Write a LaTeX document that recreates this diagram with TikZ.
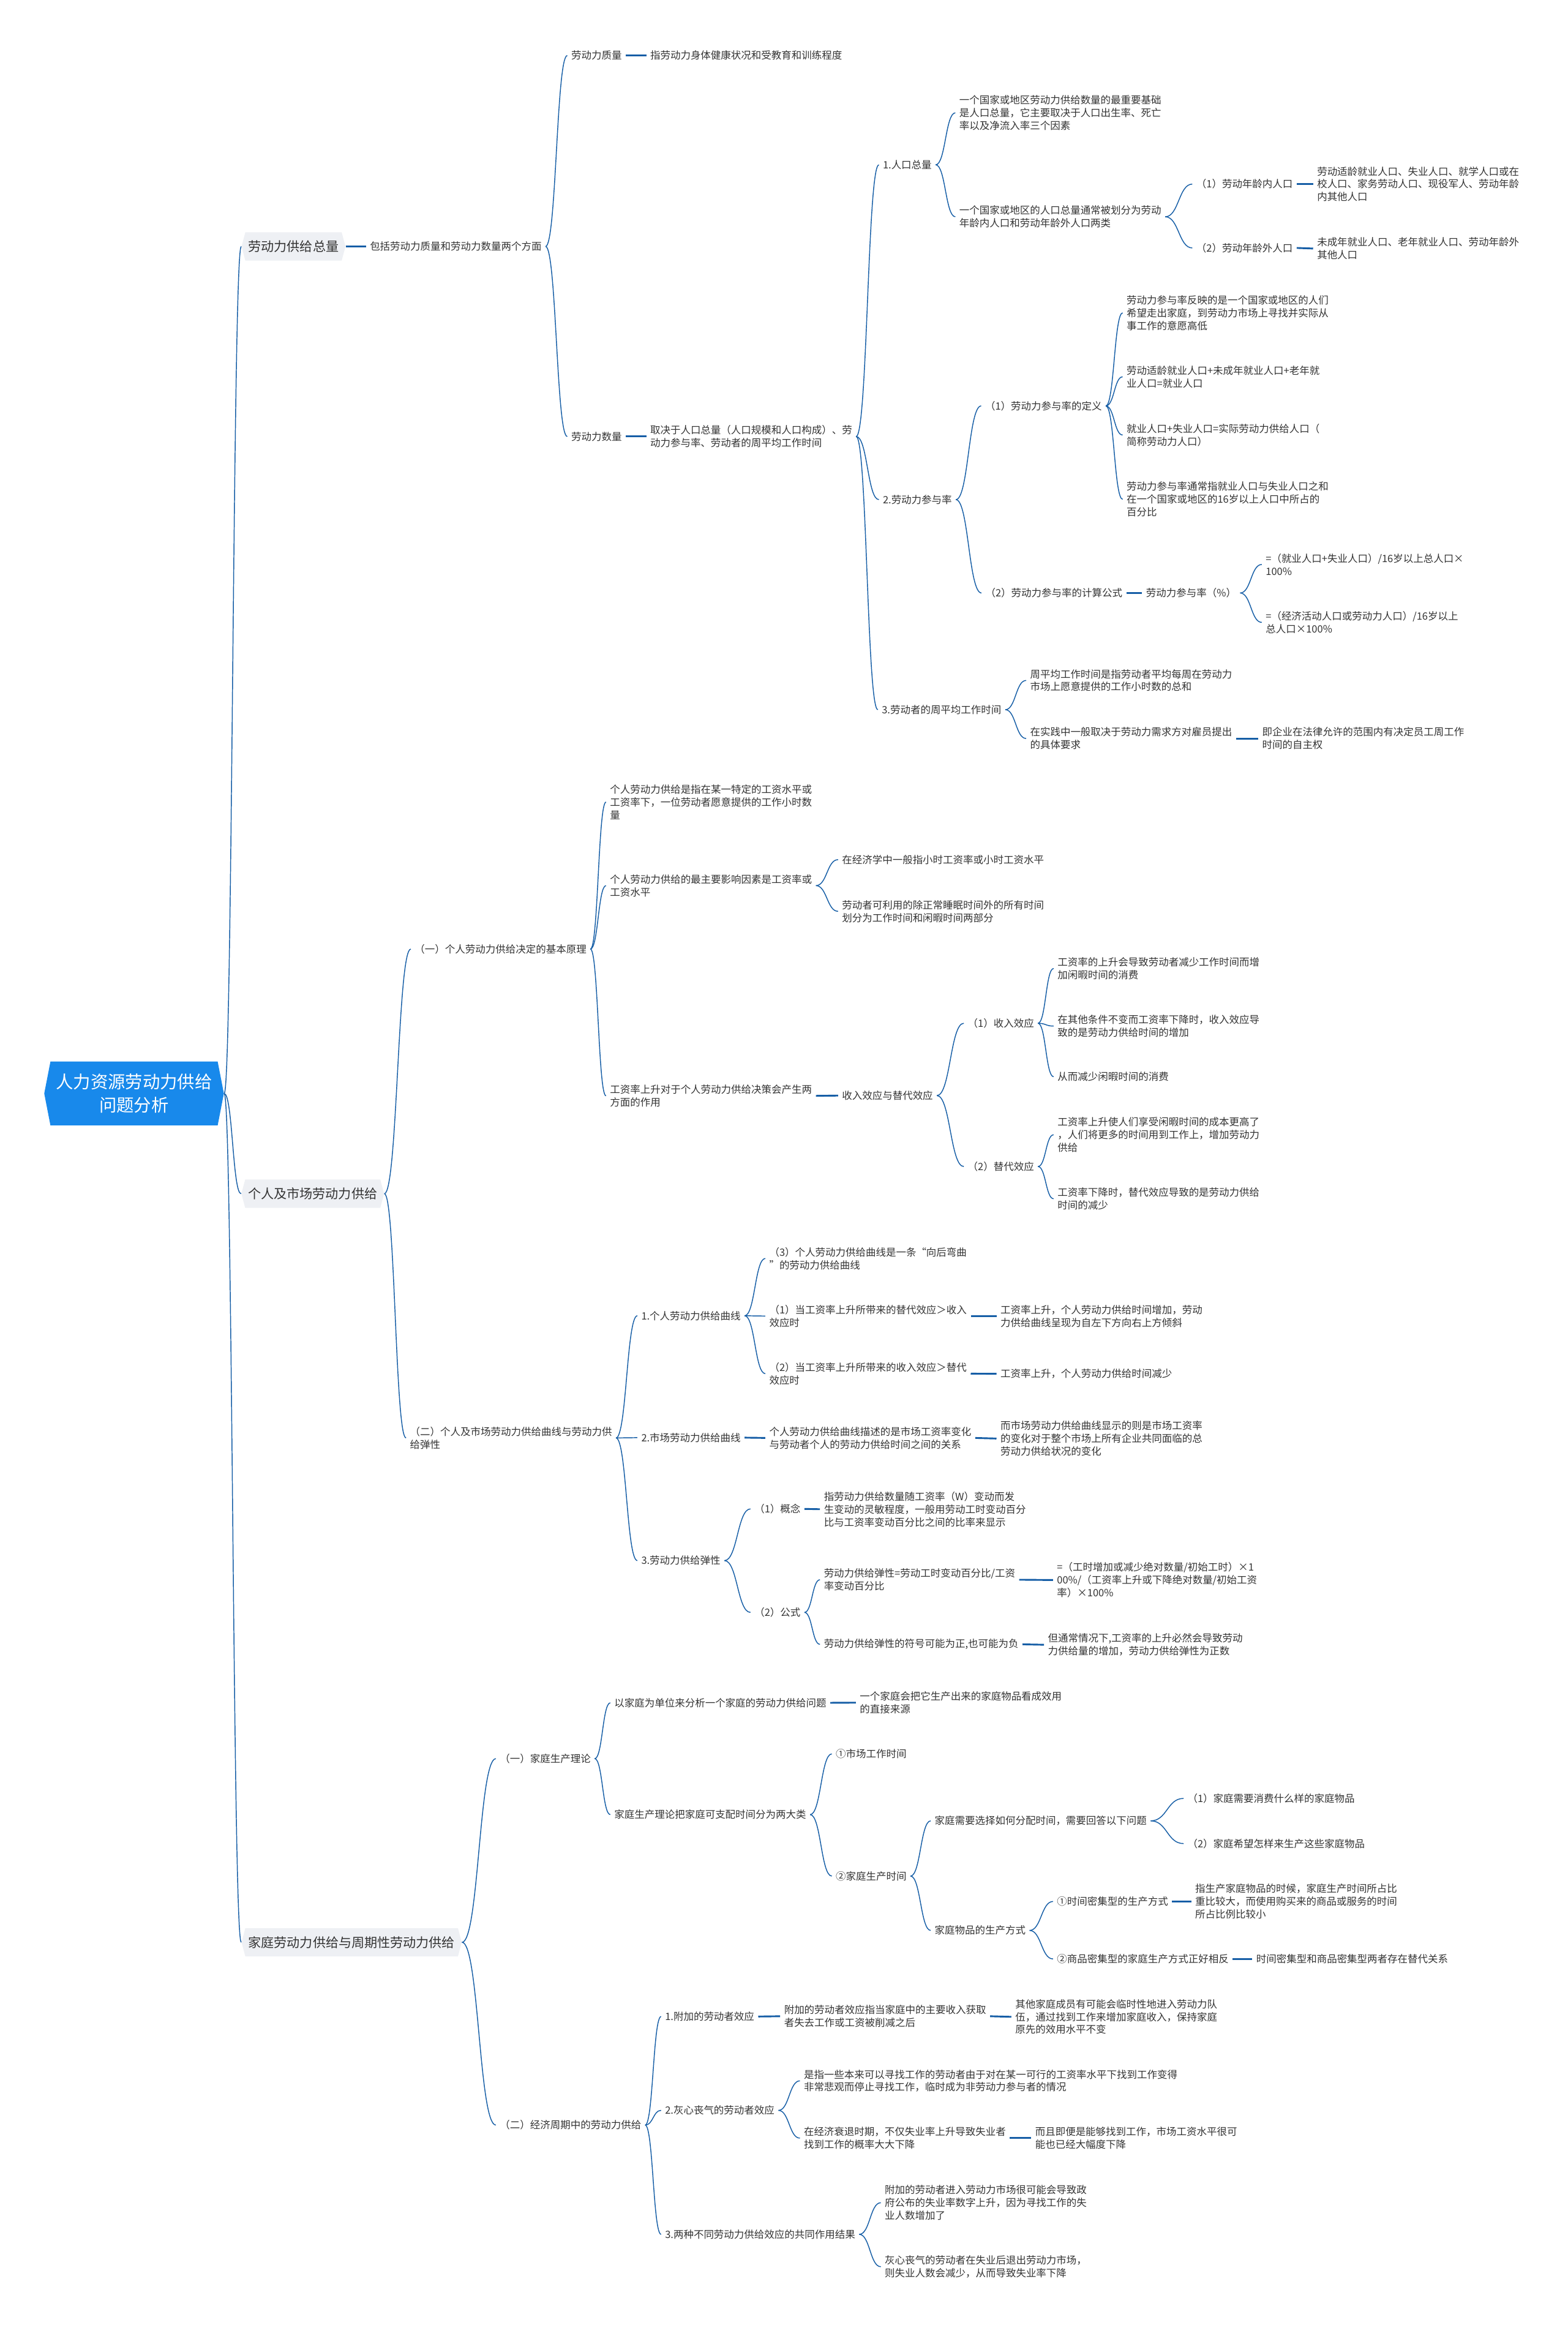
\documentclass[tikz,border=0pt]{standalone}
\usepackage{fontspec}
\setmainfont{Noto Sans CJK SC}
\usetikzlibrary{calc,shapes.symbols}
\definecolor{rootblue}{RGB}{24,137,235}
\definecolor{linkblue}{RGB}{22,94,166}
\definecolor{topicgray}{RGB}{238,240,244}
\definecolor{textdark}{RGB}{51,51,51}
\newcommand\rootfs{\fontsize{11.7}{15.9}\selectfont}
\newcommand\topicfs{\fontsize{8.7}{10.5}\selectfont}
\newcommand\leaffs{\fontsize{6.8}{8.6}\selectfont}

\begin{document}
\begin{tikzpicture}[
  x=1pt, y=-1pt,
  mainidea/.style={signal, signal to=east and west, signal pointer angle=158,
                   fill=rootblue, text=white, font=\rootfs, align=center,
                   minimum width=121pt, minimum height=43pt, inner sep=0pt},
  topic/.style={signal, signal to=east and west, signal pointer angle=150,
                fill=topicgray, text=textdark, font=\topicfs, anchor=west,
                minimum height=19pt, inner xsep=2pt, inner ysep=0pt},
  leaf/.style={anchor=west, xshift=-2.5pt, inner xsep=2.5pt, inner ysep=1pt,
               font=\leaffs, text=textdark, align=left},
  link/.style={draw=linkblue, line width=0.6pt,
               to path={let \p1=(\tikztostart), \p2=(\tikztotarget) in
                 .. controls ({0.5*(\x1+\x2)},\y1) and ({0.5*(\x1+\x2)},\y2) .. (\tikztotarget)}},
  tie/.style={link, line width=1.2pt}
]
\fill[white] (0,0) rectangle (1056,1568);
\useasboundingbox (0,0) rectangle (1056,1568);

\node[mainidea] (root) at (90.3,736.5) {人力资源劳动力供给\\问题分析};

% 劳动力供给总量
\node[topic] (s1) at (162.5,166) {劳动力供给总量};
\node[leaf] (s1a) at (249,166) {包括劳动力质量和劳动力数量两个方面};
\node[leaf] (q1) at (384.6,37.4) {劳动力质量};
\node[leaf] (q1a) at (437.8,37.4) {指劳动力身体健康状况和受教育和训练程度};
\node[leaf] (q2) at (384.6,294) {劳动力数量};
\node[leaf] (q2a) at (437.8,294) {取决于人口总量（人口规模和人口构成）、劳\\动力参与率、劳动者的周平均工作时间};
\node[leaf] (n1) at (594.5,111) {1.人口总量};
\node[leaf] (n1a) at (646,76) {一个国家或地区劳动力供给数量的最重要基础\\是人口总量，它主要取决于人口出生率、死亡\\率以及净流入率三个因素};
\node[leaf] (n1b) at (646,146) {一个国家或地区的人口总量通常被划分为劳动\\年龄内人口和劳动年龄外人口两类};
\node[leaf] (n1b1) at (805.6,124) {（1）劳动年龄内人口};
\node[leaf] (n1b1a) at (887,124) {劳动适龄就业人口、失业人口、就学人口或在\\校人口、家务劳动人口、现役军人、劳动年龄\\内其他人口};
\node[leaf] (n1b2) at (805.6,167) {（2）劳动年龄外人口};
\node[leaf] (n1b2a) at (887,167.4) {未成年就业人口、老年就业人口、劳动年龄外\\其他人口};
\node[leaf] (n2) at (594.5,336.5) {2.劳动力参与率};
\node[leaf] (n2a) at (663.4,273.4) {（1）劳动力参与率的定义};
\node[leaf] (n2a1) at (758.7,210.7) {劳动力参与率反映的是一个国家或地区的人们\\希望走出家庭，到劳动力市场上寻找并实际从\\事工作的意愿高低};
\node[leaf] (n2a2) at (758.7,253.8) {劳动适龄就业人口+未成年就业人口+老年就\\业人口=就业人口};
\node[leaf] (n2a3) at (758.7,293) {就业人口+失业人口=实际劳动力供给人口（\\简称劳动力人口）};
\node[leaf] (n2a4) at (758.7,336.3) {劳动力参与率通常指就业人口与失业人口之和\\在一个国家或地区的16岁以上人口中所占的\\百分比};
\node[leaf] (n2b) at (663.6,399.4) {（2）劳动力参与率的计算公式};
\node[leaf] (n2b1) at (771.8,399.4) {劳动力参与率（\%）};
\node[leaf] (n2b1a) at (852.4,380.2) {=（就业人口+失业人口）/16岁以上总人口×\\100\%};
\node[leaf] (n2b1b) at (852.4,419.2) {=（经济活动人口或劳动力人口）/16岁以上\\总人口×100\%};
\node[leaf] (n3) at (593.8,478) {3.劳动者的周平均工作时间};
\node[leaf] (n3a) at (693.7,458.3) {周平均工作时间是指劳动者平均每周在劳动力\\市场上愿意提供的工作小时数的总和};
\node[leaf] (n3b) at (693.7,497.4) {在实践中一般取决于劳动力需求方对雇员提出\\的具体要求};
\node[leaf] (n3b1) at (850,497.4) {即企业在法律允许的范围内有决定员工周工作\\时间的自主权};

% 个人及市场劳动力供给
\node[topic] (s2) at (162.4,804) {个人及市场劳动力供给};
\node[leaf] (u1) at (279.2,639.2) {（一）个人劳动力供给决定的基本原理};
\node[leaf] (u1a) at (410.7,540.2) {个人劳动力供给是指在某一特定的工资水平或\\工资率下，一位劳动者愿意提供的工作小时数\\量};
\node[leaf] (u1b) at (410.7,596.5) {个人劳动力供给的最主要影响因素是工资率或\\工资水平};
\node[leaf] (u1b1) at (567,579) {在经济学中一般指小时工资率或小时工资水平};
\node[leaf] (u1b2) at (567,613.8) {劳动者可利用的除正常睡眠时间外的所有时间\\划分为工作时间和闲暇时间两部分};
\node[leaf] (u1c) at (410.7,738.1) {工资率上升对于个人劳动力供给决策会产生两\\方面的作用};
\node[leaf] (u1c1) at (567,737.9) {收入效应与替代效应};
\node[leaf] (v1) at (651.7,689.2) {（1）收入效应};
\node[leaf] (v1a) at (712.2,652.3) {工资率的上升会导致劳动者减少工作时间而增\\加闲暇时间的消费};
\node[leaf] (v1b) at (712.2,691.1) {在其他条件不变而工资率下降时，收入效应导\\致的是劳动力供给时间的增加};
\node[leaf] (v1c) at (712.2,725.2) {从而减少闲暇时间的消费};
\node[leaf] (v2) at (651.7,785.7) {（2）替代效应};
\node[leaf] (v2a) at (712.2,764.3) {工资率上升使人们享受闲暇时间的成本更高了\\，人们将更多的时间用到工作上，增加劳动力\\供给};
\node[leaf] (v2b) at (712.2,807.4) {工资率下降时，替代效应导致的是劳动力供给\\时间的减少};
\node[leaf] (u2) at (276,968.5) {（二）个人及市场劳动力供给曲线与劳动力供\\给弹性};
\node[leaf] (g1) at (431.8,886.2) {1.个人劳动力供给曲线};
\node[leaf] (g1a) at (518,847.6) {（3）个人劳动力供给曲线是一条“向后弯曲\\”的劳动力供给曲线};
\node[leaf] (g1b) at (518,886.4) {（1）当工资率上升所带来的替代效应＞收入\\效应时};
\node[leaf] (g1b1) at (673.7,886.4) {工资率上升，个人劳动力供给时间增加，劳动\\力供给曲线呈现为自左下方向右上方倾斜};
\node[leaf] (g1c) at (518,925.2) {（2）当工资率上升所带来的收入效应＞替代\\效应时};
\node[leaf] (g1c1) at (673.7,925.3) {工资率上升，个人劳动力供给时间减少};
\node[leaf] (g2) at (431.8,968.3) {2.市场劳动力供给曲线};
\node[leaf] (g2a) at (518,968.5) {个人劳动力供给曲线描述的是市场工资率变化\\与劳动者个人的劳动力供给时间之间的关系};
\node[leaf] (g2b) at (673.7,968.9) {而市场劳动力供给曲线显示的则是市场工资率\\的变化对于整个市场上所有企业共同面临的总\\劳动力供给状况的变化};
\node[leaf] (g3) at (431.8,1051.1) {3.劳动力供给弹性};
\node[leaf] (g3a) at (508,1016.3) {（1）概念};
\node[leaf] (g3a1) at (554.8,1016.5) {指劳动力供给数量随工资率（W）变动而发\\生变动的灵敏程度，一般用劳动工时变动百分\\比与工资率变动百分比之间的比率来显示};
\node[leaf] (g3b) at (508,1086) {（2）公式};
\node[leaf] (g3b1) at (554.8,1064) {劳动力供给弹性=劳动工时变动百分比/工资\\率变动百分比};
\node[leaf] (g3b1a) at (711.8,1064.2) {=（工时增加或减少绝对数量/初始工时）×1\\00\%/（工资率上升或下降绝对数量/初始工资\\率）×100\%};
\node[leaf] (g3b2) at (554.8,1107.5) {劳动力供给弹性的符号可能为正,也可能为负};
\node[leaf] (g3b2a) at (705.7,1107.8) {但通常情况下,工资率的上升必然会导致劳动\\力供给量的增加，劳动力供给弹性为正数};

% 家庭劳动力供给与周期性劳动力供给
\node[topic] (s3) at (162.5,1308.2) {家庭劳动力供给与周期性劳动力供给};
\node[leaf] (h1) at (336.5,1184.5) {（一）家庭生产理论};
\node[leaf] (h1a) at (413.6,1146.9) {以家庭为单位来分析一个家庭的劳动力供给问题};
\node[leaf] (h1a1) at (579,1146.8) {一个家庭会把它生产出来的家庭物品看成效用\\的直接来源};
\node[leaf] (h1b) at (413.6,1222.2) {家庭生产理论把家庭可支配时间分为两大类};
\node[leaf] (h1b1) at (562.8,1181.3) {①市场工作时间};
\node[leaf] (h1b2) at (562.8,1263.6) {②家庭生产时间};
\node[leaf] (r1) at (629.4,1226.4) {家庭需要选择如何分配时间，需要回答以下问题};
\node[leaf] (r1a) at (799.7,1211.3) {（1）家庭需要消费什么样的家庭物品};
\node[leaf] (r1b) at (799.7,1241.7) {（2）家庭希望怎样来生产这些家庭物品};
\node[leaf] (r2) at (629.4,1300.2) {家庭物品的生产方式};
\node[leaf] (r2a) at (711.8,1280.7) {①时间密集型的生产方式};
\node[leaf] (r2a1) at (804.9,1280.7) {指生产家庭物品的时候，家庭生产时间所占比\\重比较大，而使用购买来的商品或服务的时间\\所占比例比较小};
\node[leaf] (r2b) at (711.8,1319.4) {②商品密集型的家庭生产方式正好相反};
\node[leaf] (r2b1) at (846,1319.4) {时间密集型和商品密集型两者存在替代关系};
\node[leaf] (h2) at (336.5,1431.3) {（二）经济周期中的劳动力供给};
\node[leaf] (x1) at (447.8,1358.2) {1.附加的劳动者效应};
\node[leaf] (x1a) at (528,1358) {附加的劳动者效应指当家庭中的主要收入获取\\者失去工作或工资被削减之后};
\node[leaf] (x1b) at (683.7,1358.4) {其他家庭成员有可能会临时性地进入劳动力队\\伍，通过找到工作来增加家庭收入，保持家庭\\原先的效用水平不变};
\node[leaf] (x2) at (447.8,1421.4) {2.灰心丧气的劳动者效应};
\node[leaf] (x2a) at (541.3,1401.5) {是指一些本来可以寻找工作的劳动者由于对在某一可行的工资率水平下找到工作变得\\非常悲观而停止寻找工作，临时成为非劳动力参与者的情况};
\node[leaf] (x2b) at (541.3,1440.1) {在经济衰退时期，不仅失业率上升导致失业者\\找到工作的概率大大下降};
\node[leaf] (x2b1) at (697.1,1440.1) {而且即便是能够找到工作，市场工资水平很可\\能也已经大幅度下降};
\node[leaf] (x3) at (447.8,1504.9) {3.两种不同劳动力供给效应的共同作用结果};
\node[leaf] (x3a) at (595.8,1483.6) {附加的劳动者进入劳动力市场很可能会导致政\\府公布的失业率数字上升，因为寻找工作的失\\业人数增加了};
\node[leaf] (x3b) at (595.8,1526.7) {灰心丧气的劳动者在失业后退出劳动力市场，\\则失业人数会减少，从而导致失业率下降};

% branches
\draw[link] (root.east) to (s1.west);
\draw[link] (root.east) to (s2.west);
\draw[link] (root.east) to (s3.west);

\draw[tie] (s1.east) to (s1a.west);
\draw[link] (s1a.east) to (q1.west);
\draw[link] (s1a.east) to (q2.west);
\draw[tie] (q1.east) to (q1a.west);
\draw[tie] (q2.east) to (q2a.west);
\draw[link] (q2a.east) to (n1.west);
\draw[link] (q2a.east) to (n2.west);
\draw[link] (q2a.east) to (n3.west);
\draw[link] (n1.east) to (n1a.west);
\draw[link] (n1.east) to (n1b.west);
\draw[link] (n1b.east) to (n1b1.west);
\draw[link] (n1b.east) to (n1b2.west);
\draw[tie] (n1b1.east) to (n1b1a.west);
\draw[tie] (n1b2.east) to (n1b2a.west);
\draw[link] (n2.east) to (n2a.west);
\draw[link] (n2.east) to (n2b.west);
\draw[link] (n2a.east) to (n2a1.west);
\draw[link] (n2a.east) to (n2a2.west);
\draw[link] (n2a.east) to (n2a3.west);
\draw[link] (n2a.east) to (n2a4.west);
\draw[tie] (n2b.east) to (n2b1.west);
\draw[link] (n2b1.east) to (n2b1a.west);
\draw[link] (n2b1.east) to (n2b1b.west);
\draw[link] (n3.east) to (n3a.west);
\draw[link] (n3.east) to (n3b.west);
\draw[tie] (n3b.east) to (n3b1.west);

\draw[link] (s2.east) to (u1.west);
\draw[link] (s2.east) to (u2.west);
\draw[link] (u1.east) to (u1a.west);
\draw[link] (u1.east) to (u1b.west);
\draw[link] (u1.east) to (u1c.west);
\draw[link] (u1b.east) to (u1b1.west);
\draw[link] (u1b.east) to (u1b2.west);
\draw[tie] (u1c.east) to (u1c1.west);
\draw[link] (u1c1.east) to (v1.west);
\draw[link] (u1c1.east) to (v2.west);
\draw[link] (v1.east) to (v1a.west);
\draw[link] (v1.east) to (v1b.west);
\draw[link] (v1.east) to (v1c.west);
\draw[link] (v2.east) to (v2a.west);
\draw[link] (v2.east) to (v2b.west);
\draw[link] (u2.east) to (g1.west);
\draw[link] (u2.east) to (g2.west);
\draw[link] (u2.east) to (g3.west);
\draw[link] (g1.east) to (g1a.west);
\draw[link] (g1.east) to (g1b.west);
\draw[link] (g1.east) to (g1c.west);
\draw[tie] (g1b.east) to (g1b1.west);
\draw[tie] (g1c.east) to (g1c1.west);
\draw[tie] (g2.east) to (g2a.west);
\draw[tie] (g2a.east) to (g2b.west);
\draw[link] (g3.east) to (g3a.west);
\draw[link] (g3.east) to (g3b.west);
\draw[tie] (g3a.east) to (g3a1.west);
\draw[link] (g3b.east) to (g3b1.west);
\draw[link] (g3b.east) to (g3b2.west);
\draw[tie] (g3b1.east) to (g3b1a.west);
\draw[tie] (g3b2.east) to (g3b2a.west);

\draw[link] (s3.east) to (h1.west);
\draw[link] (s3.east) to (h2.west);
\draw[link] (h1.east) to (h1a.west);
\draw[link] (h1.east) to (h1b.west);
\draw[tie] (h1a.east) to (h1a1.west);
\draw[link] (h1b.east) to (h1b1.west);
\draw[link] (h1b.east) to (h1b2.west);
\draw[link] (h1b2.east) to (r1.west);
\draw[link] (h1b2.east) to (r2.west);
\draw[link] (r1.east) to (r1a.west);
\draw[link] (r1.east) to (r1b.west);
\draw[link] (r2.east) to (r2a.west);
\draw[link] (r2.east) to (r2b.west);
\draw[tie] (r2a.east) to (r2a1.west);
\draw[tie] (r2b.east) to (r2b1.west);
\draw[link] (h2.east) to (x1.west);
\draw[link] (h2.east) to (x2.west);
\draw[link] (h2.east) to (x3.west);
\draw[tie] (x1.east) to (x1a.west);
\draw[tie] (x1a.east) to (x1b.west);
\draw[link] (x2.east) to (x2a.west);
\draw[link] (x2.east) to (x2b.west);
\draw[tie] (x2b.east) to (x2b1.west);
\draw[link] (x3.east) to (x3a.west);
\draw[link] (x3.east) to (x3b.west);

\end{tikzpicture}
\end{document}
